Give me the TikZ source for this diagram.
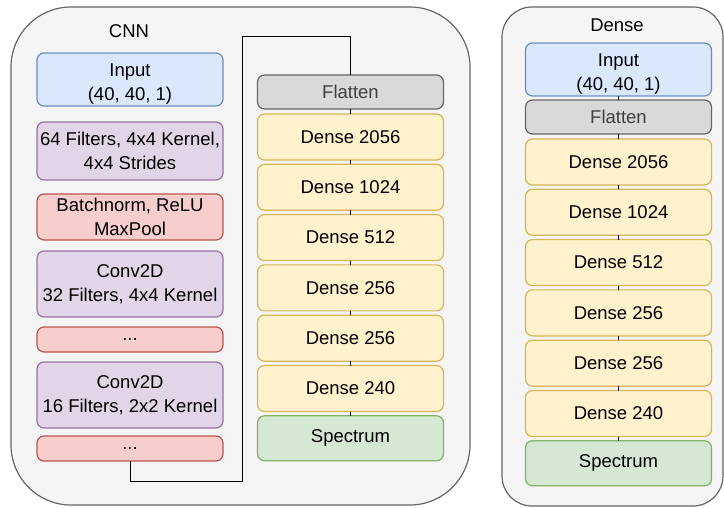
\documentclass[tikz,border=0pt]{standalone}
\usepackage{fontspec}
\setmainfont{Liberation Sans}
\usetikzlibrary{positioning}
\usepackage{xcolor}
\definecolor{inFill}{HTML}{DAE8FC}
\definecolor{inLine}{HTML}{6C8EBF}
\definecolor{convFill}{HTML}{E1D5E7}
\definecolor{convLine}{HTML}{9673A6}
\definecolor{normFill}{HTML}{F8CECC}
\definecolor{normLine}{HTML}{B85450}
\definecolor{flatFill}{HTML}{D9D9D9}
\definecolor{flatLine}{HTML}{666666}
\definecolor{flatText}{HTML}{404040}
\definecolor{denseFill}{HTML}{FFF2CC}
\definecolor{denseLine}{HTML}{D6B656}
\definecolor{outFill}{HTML}{D5E8D4}
\definecolor{outLine}{HTML}{82B366}
\definecolor{groupFill}{HTML}{F5F5F5}
\definecolor{groupLine}{HTML}{666666}

\begin{document}
\begin{tikzpicture}[x=1pt, y=1pt, font=\fontsize{18.5}{24}\selectfont]
\tikzstyle{layer}=[draw, rectangle, rounded corners=7pt, line width=1.2pt, minimum width=186pt, inner sep=0pt, outer sep=0pt, align=center]
\tikzstyle{input layer}=[layer, fill=inFill, draw=inLine, minimum height=53pt]
\tikzstyle{conv layer}=[layer, fill=convFill, draw=convLine]
\tikzstyle{norm layer}=[layer, fill=normFill, draw=normLine]
\tikzstyle{flat layer}=[layer, fill=flatFill, draw=flatLine, text=flatText, minimum height=34pt]
\tikzstyle{dense layer}=[layer, fill=denseFill, draw=denseLine, minimum height=46pt]
\tikzstyle{out layer}=[layer, fill=outFill, draw=outLine, minimum height=45pt]
\tikzstyle{group}=[draw=groupLine, fill=groupFill, line width=1.2pt]
\tikzstyle{link}=[draw=black, line width=0.9pt]

\useasboundingbox (0,0) rectangle (724,-508);

% Containers
\draw[group, rounded corners=60pt] (11,-7) rectangle (470,-505);
\draw[group, rounded corners=30pt] (502,-7) rectangle (723,-506);
\node (cnnTitle) at (129,-31) {CNN};
\node (denseTitle) at (617,-25) {Dense};

% CNN feature extractor
\node[input layer] (cIn) at (130,-79.5) {\rule{0pt}{21pt}Input\\(40, 40, 1)};
\node[conv layer, minimum height=58pt] (cConvA) at (130,-151) {64 Filters, 4x4 Kernel,\\4x4 Strides};
\node[norm layer, minimum height=46pt] (cNormA) at (130,-217) {Batchnorm, ReLU\\MaxPool};
\node[conv layer, minimum height=66pt] (cConvB) at (130,-284) {Conv2D\\32 Filters, 4x4 Kernel};
\node[norm layer, minimum height=25pt] (cNormB) at (130,-339.5) {...};
\node[conv layer, minimum height=66pt] (cConvC) at (130,-395) {Conv2D\\16 Filters, 2x2 Kernel};
\node[norm layer, minimum height=25pt] (cNormC) at (130,-448.5) {...};

% CNN dense head
\node[flat layer] (cFlat) at (350.5,-92) {Flatten};
\node[dense layer, below=5pt of cFlat] (cDenseA) {Dense 2056};
\node[dense layer, below=4.3pt of cDenseA] (cDenseB) {Dense 1024};
\node[dense layer, below=4.3pt of cDenseB] (cDenseC) {Dense 512};
\node[dense layer, below=4.3pt of cDenseC] (cDenseD) {Dense 256};
\node[dense layer, below=4.3pt of cDenseD] (cDenseE) {Dense 256};
\node[dense layer, below=4.3pt of cDenseE] (cDenseF) {Dense 240};
\node[out layer, below=4.3pt of cDenseF] (cOut) {Spectrum};

\coordinate (bendLow) at (242,-481);
\coordinate (bendHigh) at (242,-36);
\draw[link] (cNormC.south) |- (bendLow) -- (bendHigh) -| (cFlat.north);
\draw[link] (cFlat) -- (cDenseA);
\draw[link] (cDenseA) -- (cDenseB);
\draw[link] (cDenseB) -- (cDenseC);
\draw[link] (cDenseC) -- (cDenseD);
\draw[link] (cDenseD) -- (cDenseE);
\draw[link] (cDenseE) -- (cDenseF);
\draw[link] (cDenseF) -- (cOut);

% Dense only model
\node[input layer] (dIn) at (618.5,-69.5) {\rule{0pt}{21pt}Input\\(40, 40, 1)};
\node[flat layer, below=4pt of dIn] (dFlat) {Flatten};
\node[dense layer, below=5pt of dFlat] (dDenseA) {Dense 2056};
\node[dense layer, below=4.3pt of dDenseA] (dDenseB) {Dense 1024};
\node[dense layer, below=4.3pt of dDenseB] (dDenseC) {Dense 512};
\node[dense layer, below=4.3pt of dDenseC] (dDenseD) {Dense 256};
\node[dense layer, below=4.3pt of dDenseD] (dDenseE) {Dense 256};
\node[dense layer, below=4.3pt of dDenseE] (dDenseF) {Dense 240};
\node[out layer, below=4.3pt of dDenseF] (dOut) {Spectrum};

\draw[link] (dIn) -- (dFlat);
\draw[link] (dFlat) -- (dDenseA);
\draw[link] (dDenseA) -- (dDenseB);
\draw[link] (dDenseB) -- (dDenseC);
\draw[link] (dDenseC) -- (dDenseD);
\draw[link] (dDenseD) -- (dDenseE);
\draw[link] (dDenseE) -- (dDenseF);
\draw[link] (dDenseF) -- (dOut);
\end{tikzpicture}
\end{document}
